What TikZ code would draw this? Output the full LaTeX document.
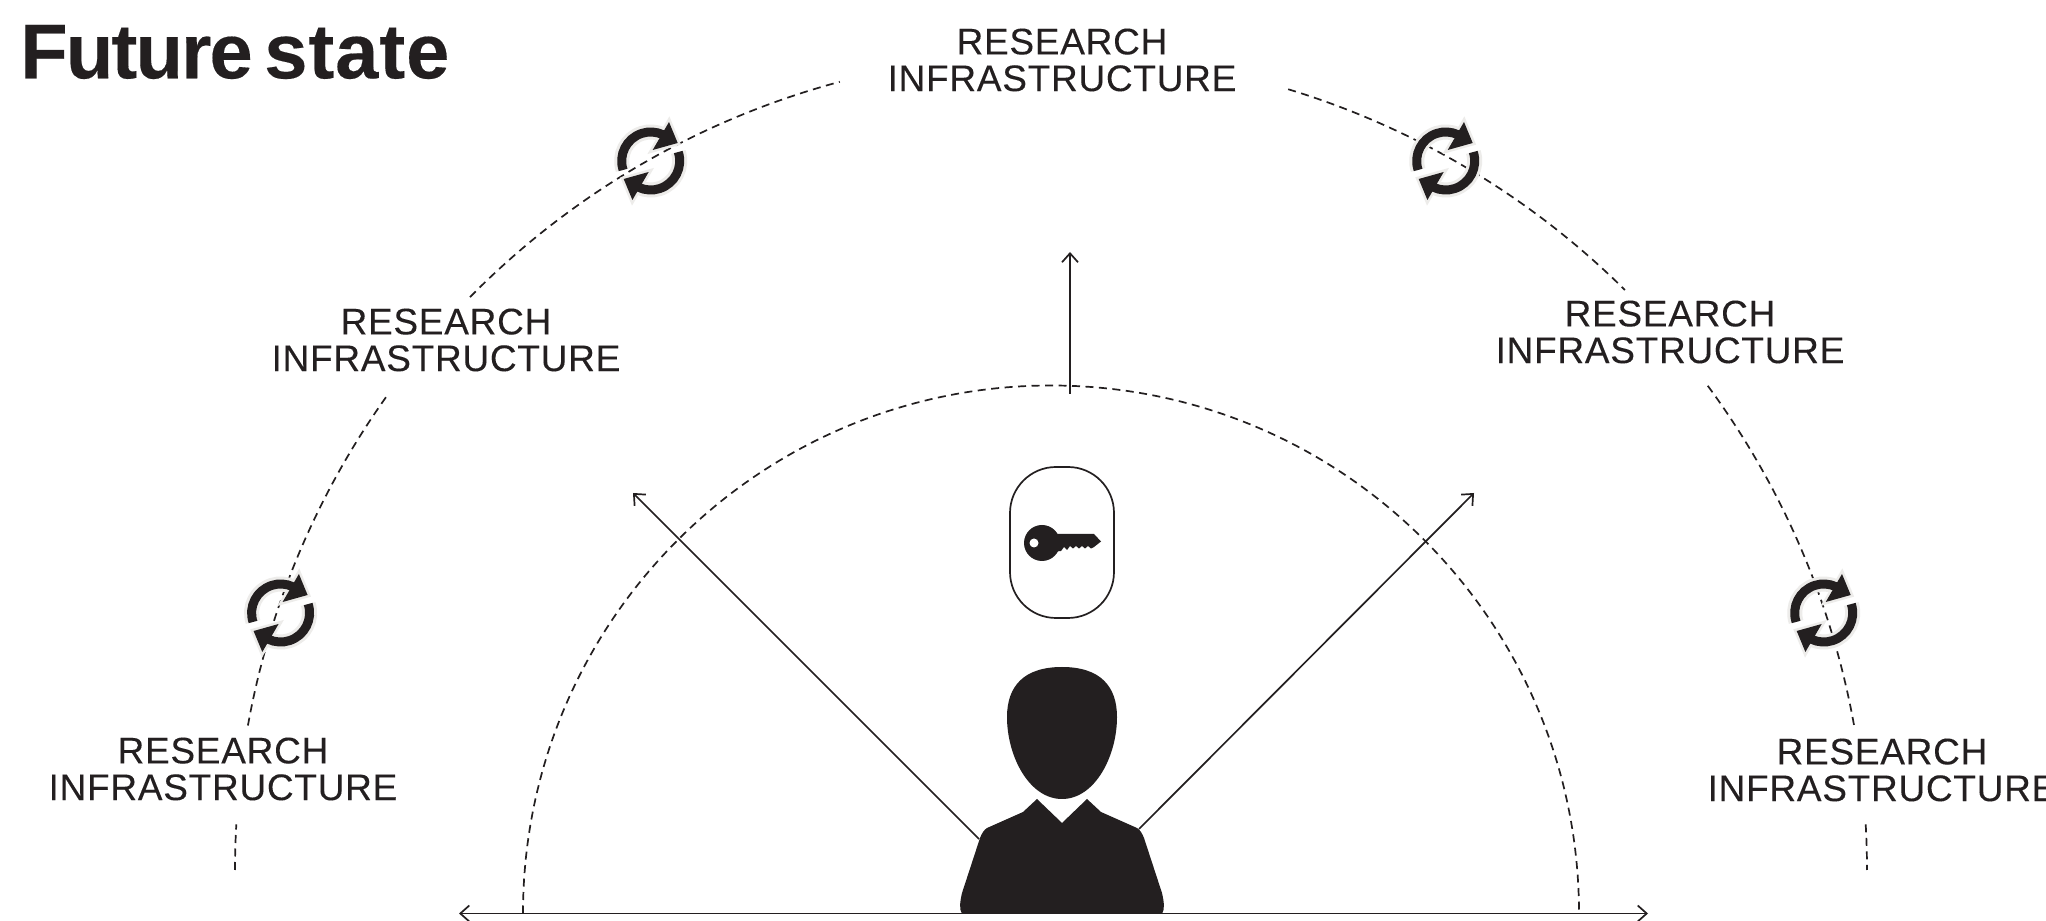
\documentclass[tikz,border=0pt]{standalone}
\usepackage{fontspec}
\setmainfont{Liberation Sans}
\newfontfamily\labelfont[LetterSpace=2,FakeBold=0.12]{Liberation Sans}
\newfontfamily\titlefont[LetterSpace=-2.4,FakeBold=0.2]{Liberation Sans Bold}
\newfontfamily\titlefontb[LetterSpace=1.2,FakeBold=0.2]{Liberation Sans Bold}
\usetikzlibrary{arrows.meta}
\definecolor{ink}{HTML}{231F20}
\definecolor{halo}{HTML}{EDECEA}
\tikzset{
  dashline/.style={draw=ink,line width=1.7pt,dash pattern=on 8pt off 5.5pt},
  thinarrow/.style={draw=ink,line width=1.7pt,-{Straight Barb[length=9pt,width=16pt,line width=1.7pt]}},
  infra/.style={font=\labelfont\fontsize{37}{36.7}\selectfont,text=ink,align=center,inner sep=0pt},
  syncicon/.pic={
    \foreach \r in {0,180}{
      \begin{scope}[rotate=\r]
        \draw[halo,line width=15pt] (198:29pt) arc[start angle=198,end angle=65,radius=29pt];
        \draw[halo,fill=halo,line width=5pt,line join=miter,miter limit=10] (18.3,39) -- (27,18) -- (2,11) -- cycle;
      \end{scope}}
    \foreach \r in {0,180}{
      \begin{scope}[rotate=\r]
        \draw[ink,line width=9pt] (198:29pt) arc[start angle=198,end angle=65,radius=29pt];
        \fill[ink] (18.3,39) -- (27,18) -- (2,11) -- cycle;
      \end{scope}}
  }
}
\begin{document}
\begin{tikzpicture}[x=1pt,y=1pt]
\path[use as bounding box,clip] (0,0) rectangle (2046,921);
\fill[white] (0,0) rectangle (2046,921);
% centres
\coordinate (oc) at (1051,51);
\coordinate (ic) at (1051,7.5);
% outer dashed arc, in segments
\draw[dashline] (oc) ++(180:816pt) arc[start angle=180,end angle=176.8,radius=816pt];
\draw[dashline] (oc) ++(169.8:816pt) arc[start angle=169.8,end angle=144.4,radius=816pt];
\draw[dashline] (oc) ++(135.4:816pt) arc[start angle=135.4,end angle=105,radius=816pt];
\draw[dashline] (oc) ++(73.1:816pt) arc[start angle=73.1,end angle=45.3,radius=816pt];
\draw[dashline] (oc) ++(36.4:816pt) arc[start angle=36.4,end angle=10.2,radius=816pt];
\draw[dashline] (oc) ++(3.2:816pt) arc[start angle=3.2,end angle=0,radius=816pt];
% inner dashed arc
\draw[dashline] (ic) ++(180:528pt) arc[start angle=180,end angle=0,radius=528pt];
% arrows
\coordinate (baseL) at (459,7.5);
\coordinate (baseR) at (1648,7.5);
\coordinate (upS) at (1070,527);
\coordinate (upE) at (1070,669);
\coordinate (diagLS) at (979,82);
\coordinate (diagLE) at (633,428);
\coordinate (diagRS) at (1139,92);
\coordinate (diagRE) at (1474,428);
\draw[draw=ink,line width=1.7pt,{Straight Barb[length=9pt,width=16pt,line width=1.7pt]}-{Straight Barb[length=9pt,width=16pt,line width=1.7pt]}] (baseL) -- (baseR);
\draw[thinarrow] (upS) -- (upE);
\draw[thinarrow] (diagLS) -- (diagLE);
\draw[thinarrow] (diagRS) -- (diagRE);
% sync icons
\pic at (650.7,760) {syncicon};
\pic at (1445.7,760) {syncicon};
\pic at (280.6,308) {syncicon};
\pic at (1823.7,308) {syncicon};
% key capsule
\node[draw=ink,line width=1.7pt,rounded corners=46pt,minimum width=104pt,minimum height=151pt,inner sep=0pt] (keybox) at (1062,378.5) {};
\fill[ink] (1042,378) circle[radius=18pt];
\fill[ink] (1052,387) -- (1094,387) -- (1101,379.5) -- (1094,374) -- (1091,372.5) -- (1088,375) -- (1085,372.5) -- (1082,375) -- (1079,372.5) -- (1076,375) -- (1073,372.5) -- (1070,375) -- (1067,371) -- (1064,374) -- (1061,370) -- (1052,369) -- cycle;
\fill[white] (1034,378) circle[radius=4.5pt];
% person
\fill[ink] (1062,254) .. controls (1100,254) and (1117,235) .. (1117,204) .. controls (1117,165) and (1095,122) .. (1062,122) .. controls (1029,122) and (1007,165) .. (1007,204) .. controls (1007,235) and (1024,254) .. (1062,254) -- cycle;
\fill[ink] (962,7) .. controls (959,12) and (960,19) .. (962,28) -- (980,83) .. controls (982,88) and (984,91) .. (987,93) -- (1023,109) -- (1037,122) -- (1062,98) -- (1087,122) -- (1101,109) -- (1137,93) .. controls (1140,91) and (1142,88) .. (1144,83) -- (1162,28) .. controls (1164,19) and (1165,12) .. (1162,7) -- cycle;
% labels
\node[infra] (top) at (1062,861) {RESEARCH\\INFRASTRUCTURE};
\node[infra] (left2) at (446,581) {RESEARCH\\INFRASTRUCTURE};
\node[infra] (right2) at (1670,589) {RESEARCH\\INFRASTRUCTURE};
\node[infra] (left3) at (223,152) {RESEARCH\\INFRASTRUCTURE};
\node[infra] (right3) at (1882,151) {RESEARCH\\INFRASTRUCTURE};
\node[font=\titlefont\fontsize{77.7}{80}\selectfont,text=ink,anchor=base west,inner sep=0pt] (title) at (20,842.7) {Future\hspace{-8pt} {\titlefontb state}};
\end{tikzpicture}
\end{document}
